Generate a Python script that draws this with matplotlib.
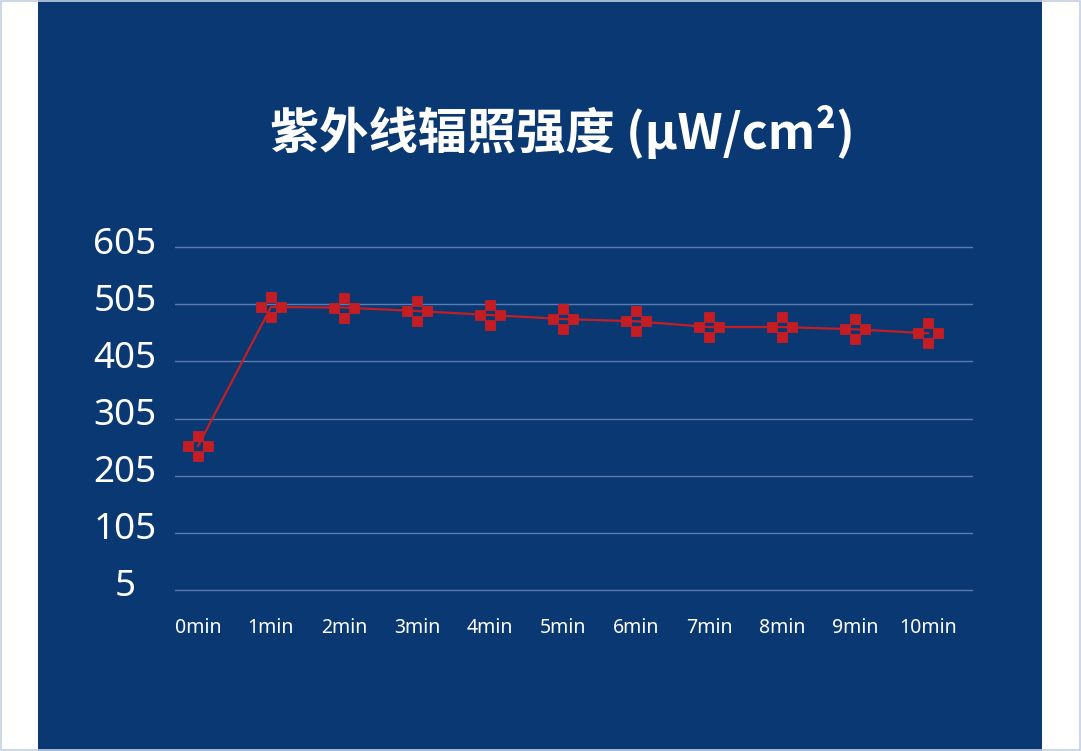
import matplotlib.pyplot as plt
import matplotlib.transforms as mtransforms
from matplotlib.path import Path
from matplotlib.patches import Rectangle
import numpy as np


# data
minutes = ['0min', '1min', '2min', '3min', '4min', '5min',
           '6min', '7min', '8min', '9min', '10min']
uv_values = [257, 500, 499, 493, 486, 479, 475, 465, 465, 461, 454]
y_ticks = [5, 105, 205, 305, 405, 505, 605]

title = '紫外线辐照强度 (μW/cm²)'

bg_blue = '#093873'
red = '#c41e24'
grid_col = '#5b7cb0'


def four_square_marker():
    # four small squares around a hollow centre (plus shape)
    verts, codes = [], []
    for cx, cy in [(0, 1), (0, -1), (-1, 0), (1, 0)]:
        sq = [(cx - 0.5, cy - 0.5), (cx + 0.5, cy - 0.5),
              (cx + 0.5, cy + 0.5), (cx - 0.5, cy + 0.5), (cx - 0.5, cy - 0.5)]
        verts += sq
        codes += [Path.MOVETO, Path.LINETO, Path.LINETO, Path.LINETO, Path.CLOSEPOLY]
    return Path(verts, codes)


W, H = 1081, 751
fig = plt.figure(figsize=(W / 100, H / 100), dpi=100)
fig.patch.set_facecolor('white')

# dark blue panel and thin outer border
fig.patches.append(Rectangle((38 / W, 0), (1042 - 38) / W, 1, transform=fig.transFigure,
                             facecolor=bg_blue, edgecolor='none', zorder=-10))
fig.patches.append(Rectangle((0.0008, 0.001), 0.9984, 0.998, transform=fig.transFigure,
                             facecolor='none', edgecolor='#c5d0e2', lw=1.2, zorder=-5))

# axes placement (pixels -> figure fraction)
px_per_unit = (590 - 247) / 600
y_lo, y_hi = -5, 615
bot_px = 590 + (5 - y_lo) * px_per_unit
top_px = 247 - (y_hi - 605) * px_per_unit
ax_w = 973 - 175
ax = fig.add_axes([175 / W, (H - bot_px) / H, ax_w / W, (bot_px - top_px) / H])
ax.set_facecolor('none')
ax.set_zorder(2)

x = np.arange(len(minutes))
ax.plot(x, uv_values, color=red, lw=1.6, zorder=3, clip_on=False)
ax.plot(x, uv_values, linestyle='none', marker=four_square_marker(), markersize=21.5,
        markerfacecolor=red, markeredgecolor=red, markeredgewidth=0.6, zorder=4, clip_on=False)

step = 73
ax.set_xlim(-23 / step, 10 + 45 / step)
ax.set_ylim(y_lo, y_hi)

# y labels: centred, sitting a few px above their gridline
ax.set_yticks(y_ticks)
ax.set_yticklabels([])
ax.tick_params(axis='y', length=0)
lab_tr = mtransforms.blended_transform_factory(ax.transAxes, ax.transData) + \
    mtransforms.ScaledTranslation(0, 2.5 / 100, fig.dpi_scale_trans)
for v in y_ticks:
    ax.text(-50 / ax_w, v, str(v), transform=lab_tr, ha='center', va='center',
            fontsize=26.5, color='white', family='Noto Sans', clip_on=False)

ax.set_xticks(x)
ax.set_xticklabels(minutes, fontsize=14, color='white', family='Noto Sans')
ax.tick_params(axis='x', length=0, pad=16)

ax.grid(axis='y', color=grid_col, lw=1)
ax.grid(axis='x', visible=False)
for s in ax.spines.values():
    s.set_visible(False)

fig.text(562 / W, 1 - 132 / H, title, ha='center', va='center', color='white',
         fontsize=35.5, fontweight='bold', family=['Noto Sans CJK SC', 'DejaVu Sans'],
         zorder=3)

fig.savefig('out.png', dpi=100, facecolor=fig.get_facecolor())
